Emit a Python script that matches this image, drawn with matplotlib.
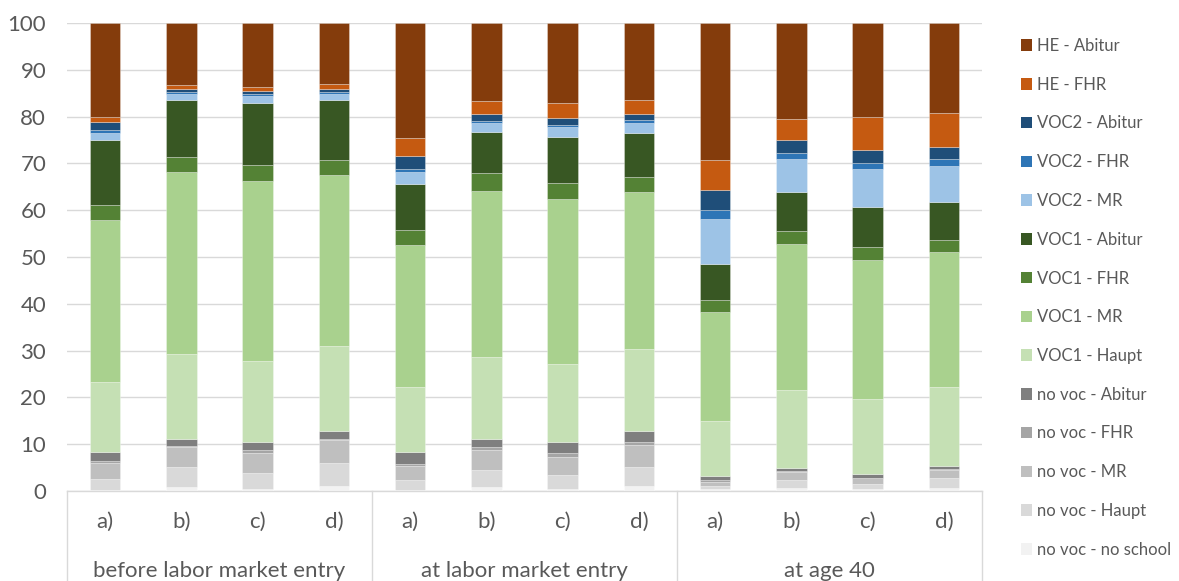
import matplotlib
matplotlib.use("Agg")
import matplotlib.pyplot as plt
from matplotlib.patches import Patch
from matplotlib.transforms import blended_transform_factory
import numpy as np

plt.rcParams['font.family'] = ['Lato', 'DejaVu Sans']

# Bar labels and groups
bar_labels = ["a)", "b)", "c)", "d)"] * 3
groups = ["before labor market entry", "at labor market entry", "at age 40"]

# Shares (%) per education category, bottom of the stack first
no_school = [0.3, 0.9, 0.4, 1.15, 0.3, 0.8, 0.4, 1.1, 0.35, 0.6, 0.4, 0.6]
nv_haupt = [2.2, 4.2, 3.45, 4.75, 2.0, 3.7, 2.95, 4.1, 0.8, 1.7, 1.2, 2.1]
nv_mr = [3.5, 4.2, 4.25, 4.9, 3.0, 4.35, 4.0, 4.6, 0.85, 1.76, 1.1, 1.7]
nv_fhr = [0.4, 0.25, 0.6, 0.4, 0.4, 0.55, 0.75, 0.75, 0.3, 0.14, 0.15, 0.2]
nv_abi = [1.9, 1.5, 1.7, 1.7, 2.6, 1.7, 2.3, 2.35, 0.8, 0.65, 0.85, 0.7]
v1_haupt = [14.9, 18.15, 17.3, 18.0, 13.9, 17.5, 16.7, 17.4, 11.8, 16.75, 16.0, 16.9]
v1_mr = [34.6, 38.9, 38.5, 36.7, 30.3, 35.6, 35.2, 33.5, 23.4, 31.1, 29.7, 28.8]
v1_fhr = [3.4, 3.2, 3.4, 3.1, 3.35, 3.7, 3.45, 3.4, 2.45, 2.8, 2.8, 2.7]
v1_abi = [13.7, 12.2, 13.2, 12.8, 9.65, 8.8, 9.85, 9.4, 7.85, 8.4, 8.4, 8.0]
v2_mr = [1.7, 1.3, 1.5, 1.3, 2.75, 1.9, 2.1, 2.1, 9.45, 7.0, 8.1, 7.8]
v2_fhr = [0.5, 0.4, 0.5, 0.4, 0.65, 0.4, 0.4, 0.5, 2.05, 1.4, 1.3, 1.4]
v2_abi = [1.75, 0.6, 0.7, 0.8, 2.7, 1.6, 1.7, 1.4, 4.3, 2.6, 2.9, 2.5]
he_fhr = [1.15, 0.9, 0.8, 0.9, 3.8, 2.8, 3.0, 2.9, 6.3, 4.5, 7.1, 7.3]
he_abi = [20.0, 13.3, 13.7, 13.1, 24.6, 16.6, 17.2, 16.5, 29.3, 20.6, 20.0, 19.3]

series = [
    ("no voc - no school", no_school, "#F2F2F2"),
    ("no voc - Haupt", nv_haupt, "#D9D9D9"),
    ("no voc - MR", nv_mr, "#BFBFBF"),
    ("no voc - FHR", nv_fhr, "#A5A5A5"),
    ("no voc - Abitur", nv_abi, "#7F7F7F"),
    ("VOC1 - Haupt", v1_haupt, "#C5E0B4"),
    ("VOC1 - MR", v1_mr, "#A9D18E"),
    ("VOC1 - FHR", v1_fhr, "#548235"),
    ("VOC1 - Abitur", v1_abi, "#385723"),
    ("VOC2 - MR", v2_mr, "#9DC3E6"),
    ("VOC2 - FHR", v2_fhr, "#2E75B6"),
    ("VOC2 - Abitur", v2_abi, "#1F4E79"),
    ("HE - FHR", he_fhr, "#C55A11"),
    ("HE - Abitur", he_abi, "#843C0C"),
]

TEXT = "#595959"
GRID = "#D9D9D9"

W, H = 1179, 581
fig = plt.figure(figsize=(W / 100, H / 100), dpi=100)
ax = fig.add_axes([67 / W, 1 - 491 / H, (982 - 67) / W, (491 - 23) / H])

x = np.arange(len(bar_labels))
bottom = np.zeros(len(x))
handles = []
for name, vals, col in series:
    v = np.array(vals)
    ax.bar(x, v, width=0.4, bottom=bottom, color=col,
           edgecolor=(1, 1, 1, 0.35), linewidth=0.6, zorder=3)
    bottom += v
    handles.append(Patch(facecolor=col, edgecolor="none", label=name))

ax.set_xlim(-0.5, len(x) - 0.5)
ax.set_ylim(0, 100)
ax.set_yticks(np.arange(0, 101, 10))
ax.yaxis.grid(True, color=GRID, linewidth=1.0, zorder=0)
ax.set_axisbelow(True)
for s in ["top", "right", "left"]:
    ax.spines[s].set_visible(False)
ax.spines["bottom"].set_color(GRID)
ax.spines["bottom"].set_linewidth(1.0)
ax.tick_params(axis="y", length=0, labelsize=16, labelcolor=TEXT, pad=15)
ax.tick_params(axis="x", length=0)
ax.set_xticks(x)
ax.set_xticklabels([])

# Two-level category axis drawn below the plot
trans = blended_transform_factory(ax.transData, ax.transAxes)
ax_h = (491 - 23)
for xi, lab in zip(x, bar_labels):
    ax.text(xi, -31 / ax_h, lab, transform=trans, ha="center", va="center",
            fontsize=16, color=TEXT, clip_on=False)
for gi, g in enumerate(groups):
    ax.text(gi * 4 + 1.5, -80 / ax_h, g, transform=trans, ha="center",
            va="center", fontsize=16, color=TEXT, clip_on=False)
for b in [-0.5, 3.5, 7.5, 11.5]:
    ax.plot([b, b], [0, -95 / ax_h], transform=trans, color=GRID,
            linewidth=1.0, clip_on=False)

fig.legend(handles=handles[::-1], loc="upper left",
           bbox_to_anchor=(1021 / W, 1 - 38 / H), frameon=False,
           fontsize=12, labelcolor=TEXT, handlelength=0.68, handleheight=0.68,
           handletextpad=0.3, labelspacing=1.365, borderpad=0, borderaxespad=0)

fig.savefig("out.png", dpi=100)
